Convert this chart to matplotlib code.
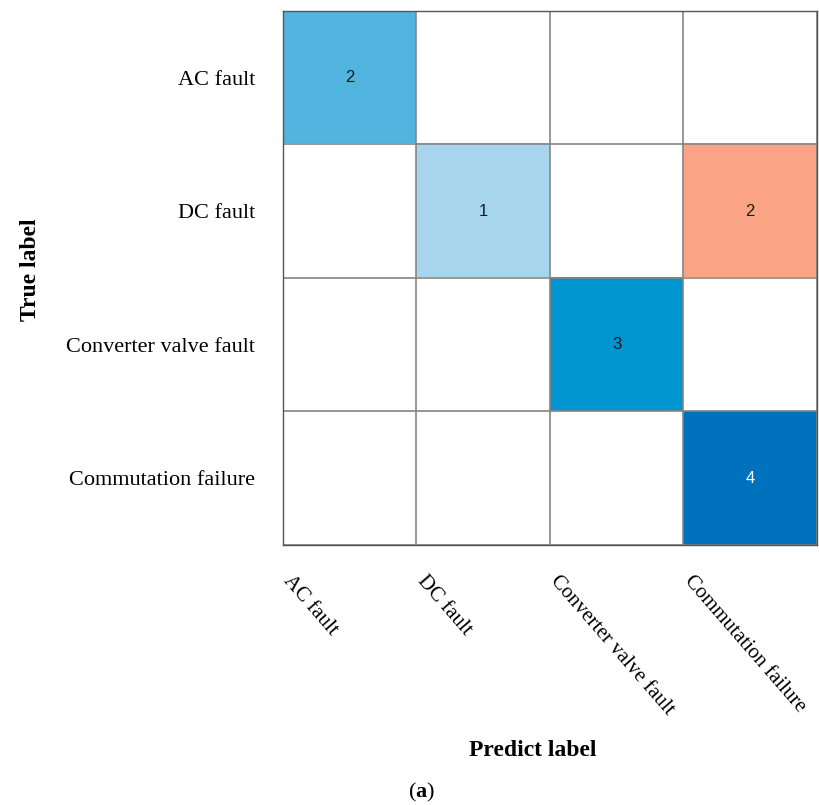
import matplotlib
matplotlib.use('Agg')
import matplotlib.pyplot as plt
import numpy as np
from matplotlib.colors import LinearSegmentedColormap, Normalize
from matplotlib import transforms

plt.rcParams['mathtext.fontset'] = 'custom'
plt.rcParams['mathtext.rm'] = 'Liberation Serif'
plt.rcParams['mathtext.bf'] = 'Liberation Serif:bold'

classes = ['AC fault', 'DC fault', 'Converter valve fault', 'Commutation failure']
# rows = true class, columns = predicted class
counts = np.array([[2, 0, 0, 0],
                   [0, 1, 0, 2],
                   [0, 0, 3, 0],
                   [0, 0, 0, 4]])

n = len(classes)

# blue shades for correct predictions, orange for mistakes
diag_cmap = LinearSegmentedColormap.from_list(
    'diag', [(0, '#ffffff'), (0.25, '#a8d6ee'), (0.5, '#52b5df'),
             (0.75, '#0096d2'), (1, '#0072bd')])
off_cmap = LinearSegmentedColormap.from_list(
    'off', [(0, '#ffffff'), (0.5, '#fca586'), (1, '#d95319')])
norm = Normalize(0, counts.max())

rgba = np.zeros((n, n, 4))
for i in range(n):
    for j in range(n):
        cmap = diag_cmap if i == j else off_cmap
        rgba[i, j] = cmap(norm(counts[i, j]))

fig = plt.figure(figsize=(8.19, 8.05), dpi=100)
ax = fig.add_axes([0.3455, 0.323, 0.652, 0.6635])
ax.imshow(rgba, aspect='auto', interpolation='nearest')

for i in range(n):
    for j in range(n):
        if counts[i, j] > 0:
            c = 'white' if norm(counts[i, j]) > 0.85 else '#1a1a1a'
            ax.text(j, i, str(counts[i, j]), ha='center', va='center',
                    fontsize=12, family='Liberation Sans', color=c)

# cell borders
ax.set_xticks(np.arange(n + 1) - 0.5, minor=True)
ax.set_yticks(np.arange(n + 1) - 0.5, minor=True)
ax.grid(which='minor', color='#858585', linewidth=1.2)
ax.tick_params(which='both', length=0)
for s in ax.spines.values():
    s.set_color('#555555')
    s.set_linewidth(1.0)

ax.set_yticks(np.arange(n))
ax.set_yticklabels(classes, family='Liberation Serif', fontsize=16)
ax.tick_params(axis='y', pad=20)

# predicted labels, slanted, starting at each column's left edge
ax.set_xticks([])
trans = transforms.blended_transform_factory(ax.transData, ax.transAxes)
for j, name in enumerate(classes):
    ax.text(j - 0.42, -0.05, name, transform=trans, rotation=-49,
            rotation_mode='anchor', ha='left', va='top',
            family='Liberation Serif', fontsize=15)

fig.text(0.65, 1 - 750 / 805, 'Predict label', ha='center', va='center',
         family='Liberation Serif', fontweight='bold', fontsize=17)
fig.text(30 / 819, 1 - 270 / 805, 'True label', ha='center', va='center',
         rotation=90, family='Liberation Serif', fontweight='bold', fontsize=17)
fig.text(422 / 819, 1 - 792 / 805, r'$\mathrm{(}\mathbf{a}\mathrm{)}$',
         ha='center', va='center', fontsize=16)

fig.savefig('out.png', dpi=100)
